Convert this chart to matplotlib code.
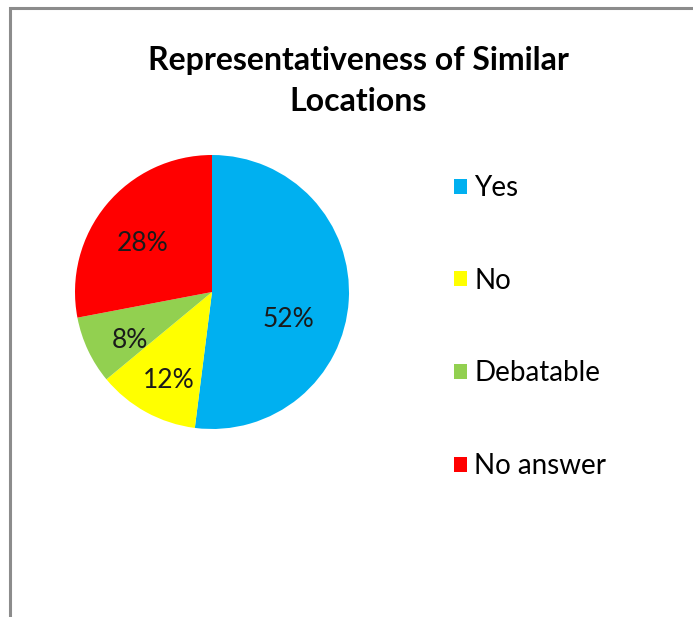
import numpy as np
import matplotlib
matplotlib.use('Agg')
import matplotlib.pyplot as plt
from matplotlib.patches import Rectangle

title = 'Representativeness of Similar\nLocations'
labels = ['Yes', 'No', 'Debatable', 'No answer']
shares = [52, 12, 8, 28]
colors = ['#00B0F0', '#FFFF00', '#92D050', '#FF0000']

plt.rcParams['font.family'] = ['Lato', 'DejaVu Sans']

W, H = 693, 617
fig = plt.figure(figsize=(W / 100, H / 100), dpi=100)

# chart frame (only left and top edges visible in the crop)
fig.patches.append(Rectangle((10 / W, -0.1), 1.2, 1 - 8 / H + 0.1,
                             transform=fig.transFigure, fill=False,
                             edgecolor='#8c8c8c', linewidth=2.2))

fig.text(358 / W, 1 - 81 / H, title, ha='center', va='center',
         fontsize=23, fontweight='bold', linespacing=1.5)

# pie
cx, cy, r = 212, 292, 137
ax = fig.add_axes([(cx - r) / W, 1 - (cy + r) / H, 2 * r / W, 2 * r / H])
wedges, _, pcts = ax.pie(shares, colors=colors, startangle=90, counterclock=False,
                         autopct='%1.0f%%', pctdistance=0.66,
                         textprops={'fontsize': 19, 'color': '#1a1a1a'},
                         wedgeprops={'linewidth': 0})
for t in pcts:
    x, y = t.get_position()
    t.set_position((x, y - 0.07))
# Excel puts the big slice's label a bit lower
x, y = pcts[0].get_position()
pcts[0].set_position((x - 0.1, y - 0.09))
ax.set_xlim(-1, 1)
ax.set_ylim(-1, 1)
ax.set_aspect('equal')

handles = [Rectangle((0, 0), 1, 1, facecolor=c, edgecolor='none') for c in colors]
fig.legend(handles, labels, loc='upper left', bbox_to_anchor=(454 / W, 1 - 175 / H),
           frameon=False, fontsize=20, handlelength=0.45, handleheight=0.45,
           handletextpad=0.28, labelspacing=2.4, borderaxespad=0, borderpad=0)

fig.savefig('out.png', dpi=100, facecolor='white')
